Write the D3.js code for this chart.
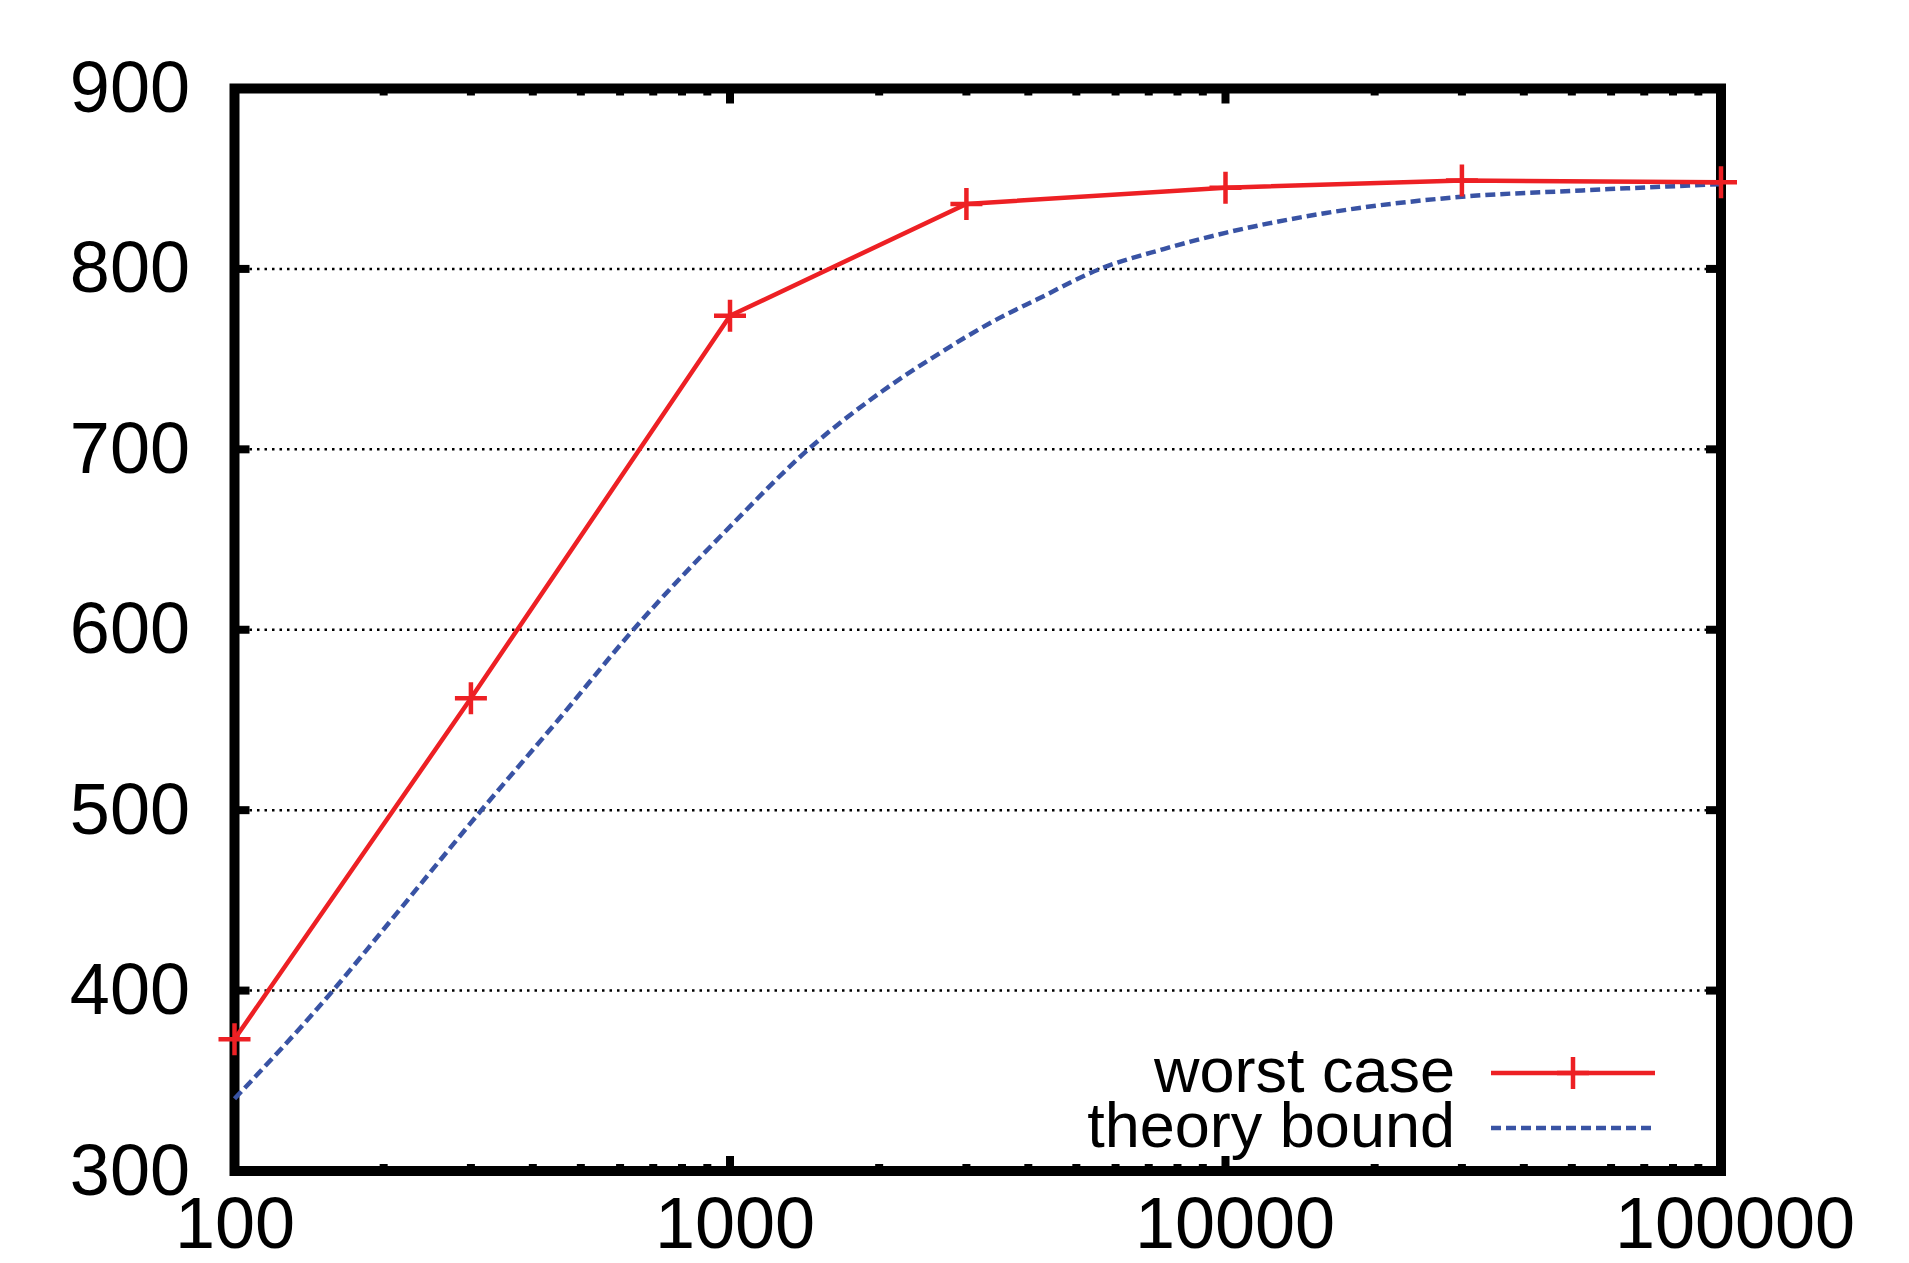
<!DOCTYPE html>
<html>
<head>
<meta charset="utf-8">
<script src="https://cdn.jsdelivr.net/npm/d3@7"></script>
<style>
  body { margin: 0; background: #fff; }
  text { font-family: "Liberation Sans", Arial, sans-serif; fill: #000; }
</style>
</head>
<body>
<div id="chart"></div>
<script>
// datos
const sizes = [100, 300, 1000, 3000, 10000, 30000, 100000];
const worstCase = [373, 562, 774, 836, 845, 849, 848];

const boundX = [100, 158, 200, 315, 450, 638, 1015, 1439, 2000, 2570, 3508, 4159, 5580, 7500, 10000, 15960, 30000, 52430, 100000];
const boundY = [340, 400, 434, 500, 550, 600, 659, 700, 731, 751, 773, 783, 800, 811, 820, 831, 840, 843.5, 847];

const xMajorTicks = [100, 1000, 10000, 100000];
const yTicks = [300, 400, 500, 600, 700, 800, 900];
const yGridLines = [400, 500, 600, 700, 800];
const legendLabels = ["worst case", "theory bound"];

const width = 1909, height = 1263;
const plotLeft = 234.5, plotRight = 1721, plotTop = 88.5, plotBottom = 1171;
const red = "#ed2024", blue = "#3953a4";

const svg = d3.select("#chart").append("svg")
    .attr("width", width)
    .attr("height", height);

const x = d3.scaleLog().domain([100, 100000]).range([plotLeft, plotRight]);
const y = d3.scaleLinear().domain([300, 900]).range([plotBottom, plotTop]);

// rejilla punteada
svg.append("g").selectAll("line")
    .data(yGridLines)
    .enter().append("line")
    .attr("x1", plotLeft).attr("x2", plotRight)
    .attr("y1", d => y(d)).attr("y2", d => y(d))
    .attr("stroke", "#000")
    .attr("stroke-width", 2.5)
    .attr("stroke-dasharray", "2.5,5");

// marcas del eje x (abajo y arriba) y del eje y (izq. y der.)
const xMinor = x.ticks().filter(d => !xMajorTicks.includes(d));
const ticks = svg.append("g").attr("stroke", "#000").attr("stroke-width", 8);
xMinor.forEach(d => {
    ticks.append("line").attr("x1", x(d)).attr("x2", x(d)).attr("y1", plotBottom).attr("y2", plotBottom - 7);
    ticks.append("line").attr("x1", x(d)).attr("x2", x(d)).attr("y1", plotTop).attr("y2", plotTop + 7);
});
xMajorTicks.forEach(d => {
    ticks.append("line").attr("x1", x(d)).attr("x2", x(d)).attr("y1", plotBottom).attr("y2", plotBottom - 15);
    ticks.append("line").attr("x1", x(d)).attr("x2", x(d)).attr("y1", plotTop).attr("y2", plotTop + 15);
});
yTicks.forEach(d => {
    ticks.append("line").attr("x1", plotLeft).attr("x2", plotLeft + 15).attr("y1", y(d)).attr("y2", y(d));
    ticks.append("line").attr("x1", plotRight).attr("x2", plotRight - 15).attr("y1", y(d)).attr("y2", y(d));
});

// etiquetas de los ejes
const xAxis = svg.append("g")
    .attr("transform", `translate(0,${plotBottom})`)
    .call(d3.axisBottom(x).tickValues(xMajorTicks).tickFormat(d3.format("d")).tickSize(0).tickPadding(26));
const yAxis = svg.append("g")
    .attr("transform", `translate(${plotLeft},0)`)
    .call(d3.axisLeft(y).tickValues(yTicks).tickFormat(d3.format("d")).tickSize(0).tickPadding(44.5));
[xAxis, yAxis].forEach(a => {
    a.select(".domain").remove();
    a.selectAll("text")
        .style("font-family", "'Liberation Sans', Arial, sans-serif")
        .style("font-size", "72px")
        .attr("fill", "#000");
});
// las etiquetas largas van algo corridas a la derecha en el original
xAxis.selectAll("text").attr("dx", d => (String(d).length - 3) * 4.5);

// marco
svg.append("rect")
    .attr("x", plotLeft).attr("y", plotTop)
    .attr("width", plotRight - plotLeft).attr("height", plotBottom - plotTop)
    .attr("fill", "none")
    .attr("stroke", "#000")
    .attr("stroke-width", 10);

// curva teorica
const boundData = boundX.map((v, i) => ({ x: v, y: boundY[i] }));
svg.append("path")
    .datum(boundData)
    .attr("fill", "none")
    .attr("stroke", blue)
    .attr("stroke-width", 4.5)
    .attr("stroke-dasharray", "10,5")
    .attr("d", d3.line().x(d => x(d.x)).y(d => y(d.y)).curve(d3.curveMonotoneX));

// peor caso
const worstData = sizes.map((v, i) => ({ x: v, y: worstCase[i] }));
svg.append("path")
    .datum(worstData)
    .attr("fill", "none")
    .attr("stroke", red)
    .attr("stroke-width", 4.5)
    .attr("d", d3.line().x(d => x(d.x)).y(d => y(d.y)));

const plusPath = "M-16,0H16M0,-16V16";
svg.append("g").selectAll("path")
    .data(worstData)
    .enter().append("path")
    .attr("transform", d => `translate(${x(d.x)},${y(d.y)})`)
    .attr("d", plusPath)
    .attr("stroke", red)
    .attr("stroke-width", 4.5);

// leyenda
const legend = svg.append("g");
legend.selectAll("text")
    .data(legendLabels)
    .enter().append("text")
    .attr("x", 1455)
    .attr("y", (d, i) => 1092 + i * 55)
    .attr("text-anchor", "end")
    .style("font-size", "63px")
    .text(d => d);

legend.append("line")
    .attr("x1", 1491).attr("x2", 1655)
    .attr("y1", 1073).attr("y2", 1073)
    .attr("stroke", red).attr("stroke-width", 4.5);
legend.append("path")
    .attr("transform", "translate(1573,1073)")
    .attr("d", plusPath)
    .attr("stroke", red).attr("stroke-width", 4.5);
legend.append("line")
    .attr("x1", 1491).attr("x2", 1653)
    .attr("y1", 1128).attr("y2", 1128)
    .attr("stroke", blue).attr("stroke-width", 4.5)
    .attr("stroke-dasharray", "10,5");
</script>
</body>
</html>
